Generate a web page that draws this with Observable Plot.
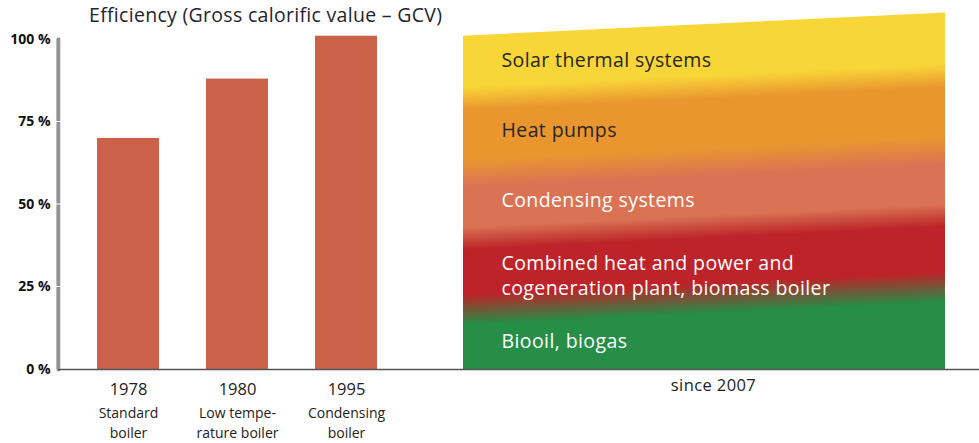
<!DOCTYPE html>
<html>
<head>
<meta charset="utf-8">
<script src="https://cdn.jsdelivr.net/npm/d3@7"></script>
<script src="https://cdn.jsdelivr.net/npm/@observablehq/plot@0.6"></script>
<style>
  html, body { margin: 0; padding: 0; background: #fff; }
  #chart { position: relative; width: 979px; height: 443px; font-family: "Open Sans", Lato, sans-serif; }
  #chart svg { position: absolute; top: 0; }
  #title { position: absolute; left: 89px; top: 1px; font-size: 19.5px; letter-spacing: 0.3px; color: #1e2530; white-space: nowrap; }
</style>
</head>
<body>
<div id="chart"><div id="title">Efficiency (Gross calorific value – GCV)</div></div>
<script>
// ---- data ----
const categories = ["1978", "1980", "1995"];
const boilerTypes = ["Standard\nboiler", "Low tempe-\nrature boiler", "Condensing\nboiler"];
const efficiency = [70, 88, 101];
const yTicks = [0, 25, 50, 75, 100];
const modernLabel = "since 2007";
const modernTop = [101, 108];
const systems = [
  "Solar thermal systems",
  "Heat pumps",
  "Condensing systems",
  "Combined heat and power and\ncogeneration plant, biomass boiler",
  "Biooil, biogas"
];

// ---- tables built from the arrays ----
const bars = categories.map((c, i) => ({year: c, type: boilerTypes[i], value: efficiency[i]}));
const edge = modernTop.map((v, i) => ({x: i, y: v}));
const labelLevel = [94.1, 72.9, 51.7, 28.9, 9.0];
const labelColor = ["#262626", "#262626", "#ffffff", "#ffffff", "#ffffff"];
const sysRows = systems.map((s, i) => ({text: s, level: labelLevel[i], color: labelColor[i]}));

const font = "'Open Sans', Lato, sans-serif";
const chart = document.getElementById("chart");

// ---- left panel: bars ----
const left = Plot.plot({
  width: 463, height: 443,
  marginLeft: 58, marginRight: 0, marginTop: 39, marginBottom: 74,
  style: {fontFamily: font},
  x: {domain: categories, range: [95.5, 378.5], paddingInner: 0.427, paddingOuter: 0, axis: null},
  y: {domain: [0, 100], axis: null},
  marks: [
    Plot.frame({anchor: "left", stroke: "#909095", strokeWidth: 3.5}),
    Plot.barY(bars, {x: "year", y: "value", fill: "#CB6149"}),
    Plot.ruleY([0], {stroke: "#555", strokeWidth: 1.5}),
    Plot.text(yTicks, {y: d => d, frameAnchor: "left", dx: -8, textAnchor: "end", text: d => `${d} %`,
      fontSize: 14, fontWeight: "bold", fill: "#111"}),
    Plot.text(bars, {x: "year", y: 0, text: "year", dy: 20, fontSize: 16.5, fill: "#222"}),
    Plot.text(bars, {x: "year", y: 0, text: "type", dy: 35, lineAnchor: "top", lineHeight: 1.38,
      fontSize: 14, fill: "#222"})
  ]
});
left.style.left = "0px";
chart.appendChild(left);

// y axis bar (filled) with small white notches, placed with the plot's y scale
{
  const y = left.scale("y");
  const svg = d3.select(left);
  svg.append("rect")
    .attr("x", 56.5).attr("width", 3.5)
    .attr("y", y.apply(100)).attr("height", y.apply(0) - y.apply(100))
    .attr("fill", "#919196");
  yTicks.filter(d => d > 0 && d < 100).forEach(d => {
    svg.append("rect")
      .attr("x", 56).attr("width", 6)
      .attr("y", y.apply(d) - 0.5).attr("height", 1)
      .attr("fill", "#ffffff");
  });
}

// ---- right panel: gradient area ----
const right = Plot.plot({
  width: 516, height: 443,
  marginLeft: 0, marginRight: 0, marginTop: 39, marginBottom: 74,
  style: {fontFamily: font, background: "transparent"},
  x: {domain: [0, 1], range: [0, 482], axis: null},
  y: {domain: [0, 100], axis: null},
  marks: [
    Plot.areaY(edge, {x: "x", y: "y", fill: "url(#modernGrad)"}),
    Plot.ruleY([0], {stroke: "#555", strokeWidth: 1.5}),
    Plot.text(sysRows, {x: 0, y: "level", text: "text", dx: 38, textAnchor: "start", lineHeight: 1.32,
      fontSize: 19.5, fill: "color"}),
    Plot.text([modernLabel], {x: 0.5, y: 0, dx: 9, dy: 16, text: d => d, fontSize: 16.5, fill: "#222"})
  ]
});
right.style.left = "463px";
chart.appendChild(right);
d3.select(right).selectAll("text").style("letter-spacing", "0.4px");

// gradient definition (stripes parallel to the sloping top edge)
const stops = [
  [0, "#F8D637"], [0.153, "#F8D637"],
  [0.222, "#EA962F"], [0.371, "#EA962F"],
  [0.452, "#D97354"], [0.572, "#D97354"],
  [0.641, "#BD2328"], [0.776, "#BD2328"],
  [0.866, "#268E47"], [1, "#268E47"]
];
const defs = d3.select(right).insert("defs", ":first-child");
const grad = defs.append("linearGradient")
  .attr("id", "modernGrad")
  .attr("gradientUnits", "userSpaceOnUse")
  .attr("x1", 0).attr("y1", 36)
  .attr("x2", 15.9).attr("y2", 369);
stops.forEach(([o, c]) => grad.append("stop").attr("offset", o).attr("stop-color", c));
</script>
</body>
</html>
